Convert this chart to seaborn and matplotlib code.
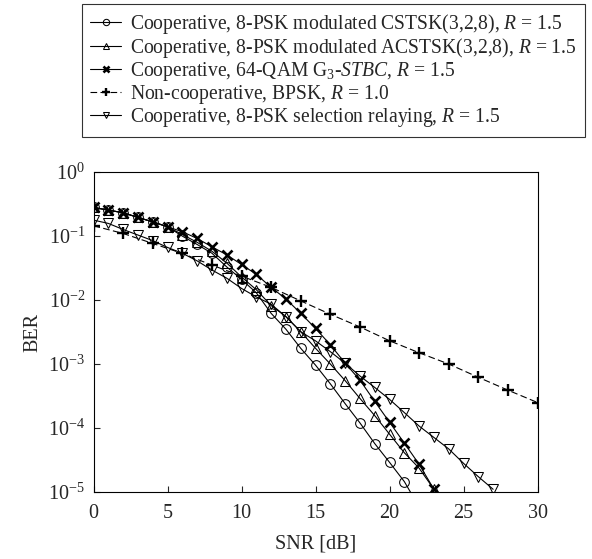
import numpy as np
import pandas as pd
import matplotlib
matplotlib.use("Agg")
import matplotlib.pyplot as plt
import seaborn as sns

# ======================
# DATA
# ======================
snr_full = list(range(0, 24))
snr_bpsk = list(range(0, 31, 2))
snr_sr = list(range(0, 28))

ber_cstsk = [0.281, 0.255, 0.232, 0.196, 0.167, 0.14, 0.10, 0.074, 0.054, 0.033,
             0.021, 0.013, 0.0062, 0.0035, 0.00176, 0.00096, 0.00049, 0.00024,
             0.00012, 5.7e-5, 2.9e-5, 1.45e-5, 5.8e-6]
snr_cstsk = list(range(0, 23))

ber_acstsk = [0.281, 0.255, 0.232, 0.196, 0.167, 0.14, 0.106, 0.08, 0.058, 0.038,
              0.023, 0.0145, 0.0082, 0.0055, 0.0032, 0.00176, 0.001, 0.00055,
              0.00029, 0.000156, 8.0e-5, 4.1e-5, 2.35e-5, 1.1e-5]

ber_stbc = [0.281, 0.255, 0.232, 0.196, 0.167, 0.14, 0.117, 0.092, 0.068, 0.051,
            0.036, 0.0252, 0.0158, 0.0104, 0.0062, 0.0036, 0.002, 0.00103,
            0.00056, 0.00026, 0.000123, 5.8e-5, 2.7e-5, 1.1e-5]

ber_bpsk = [0.145, 0.110, 0.0768, 0.0536, 0.0352, 0.0237, 0.0158, 0.0097,
            0.0060, 0.0038, 0.00231, 0.0015, 0.001, 0.00062, 0.00039, 0.00025]

ber_sr = [0.178, 0.158, 0.127, 0.104, 0.085, 0.0665, 0.054, 0.041, 0.0295, 0.022,
          0.0152, 0.0112, 0.0086, 0.0055, 0.0032, 0.0023, 0.00156, 0.00103,
          0.00065, 0.00043, 0.00028, 0.000174, 0.000107, 7.1e-5, 4.7e-5,
          2.8e-5, 1.73e-5, 1.1e-5]

labels = [
    "Cooperative, 8-PSK modulated CSTSK(3,2,8), $R$ = 1.5",
    "Cooperative, 8-PSK modulated ACSTSK(3,2,8), $R$ = 1.5",
    "Cooperative, 64-QAM G$_3$-$STBC$, $R$ = 1.5",
    "Non-cooperative, BPSK, $R$ = 1.0",
    "Cooperative, 8-PSK selection relaying, $R$ = 1.5",
]

# ======================
# STYLE
# ======================
sns.set_style("ticks")
plt.rcParams["font.family"] = ["Liberation Serif", "DejaVu Serif"]
plt.rcParams["mathtext.fontset"] = "custom"
plt.rcParams["mathtext.rm"] = "Liberation Serif"
plt.rcParams["mathtext.it"] = "Liberation Serif:italic"
plt.rcParams["font.size"] = 14.5

fig = plt.figure(figsize=(5.92, 5.59), dpi=100)
ax = fig.add_axes([0.158, 0.12, 0.75, 0.572])

series = [
    (snr_cstsk, ber_cstsk, dict(marker="o", markersize=7, linestyle="-")),
    (snr_full, ber_acstsk, dict(marker="^", markersize=7.5, linestyle="-")),
    (snr_full, ber_stbc, dict(marker="x", markersize=7, markeredgewidth=1.9, linestyle="-")),
    (snr_bpsk, ber_bpsk, dict(marker="+", markersize=9, markeredgewidth=1.7, linestyle=(0, (6, 3)))),
    (snr_sr, ber_sr, dict(marker="v", markersize=7.5, linestyle="-")),
]

for (x, y, kw), lab in zip(series, labels):
    sns.lineplot(x=x, y=y, ax=ax, color="black", linewidth=0.8,
                 markerfacecolor="none", markeredgecolor="black",
                 label=lab, **kw)

ax.set_yscale("log")
ax.set_xlim(0, 30)
ax.set_ylim(1e-5, 1)
ax.set_xticks([0, 5, 10, 15, 20, 25, 30])
ax.set_yticks([1e0, 1e-1, 1e-2, 1e-3, 1e-4, 1e-5])
ax.minorticks_off()
ax.tick_params(direction="in", length=4, width=0.8, labelsize=14.5)
ax.tick_params(axis="x", pad=9)
ax.tick_params(axis="y", pad=6)
for s in ax.spines.values():
    s.set_linewidth(0.8)
    s.set_color("black")

ax.set_xlabel("SNR [dB]", fontsize=14.5, labelpad=8)
ax.set_ylabel("BER", fontsize=14.5, labelpad=4)

handles, labs = ax.get_legend_handles_labels()
ax.get_legend().remove()
leg = fig.legend(handles, labs, loc="upper left", bbox_to_anchor=(0.139, 0.993),
                 fontsize=14.1, frameon=True, fancybox=False, edgecolor="black",
                 markerscale=0.65, labelspacing=0.0, handlelength=1.6,
                 borderpad=0.4, handletextpad=0.45, borderaxespad=0.0)
leg.get_frame().set_linewidth(0.8)

fig.savefig("out.png", dpi=100)
